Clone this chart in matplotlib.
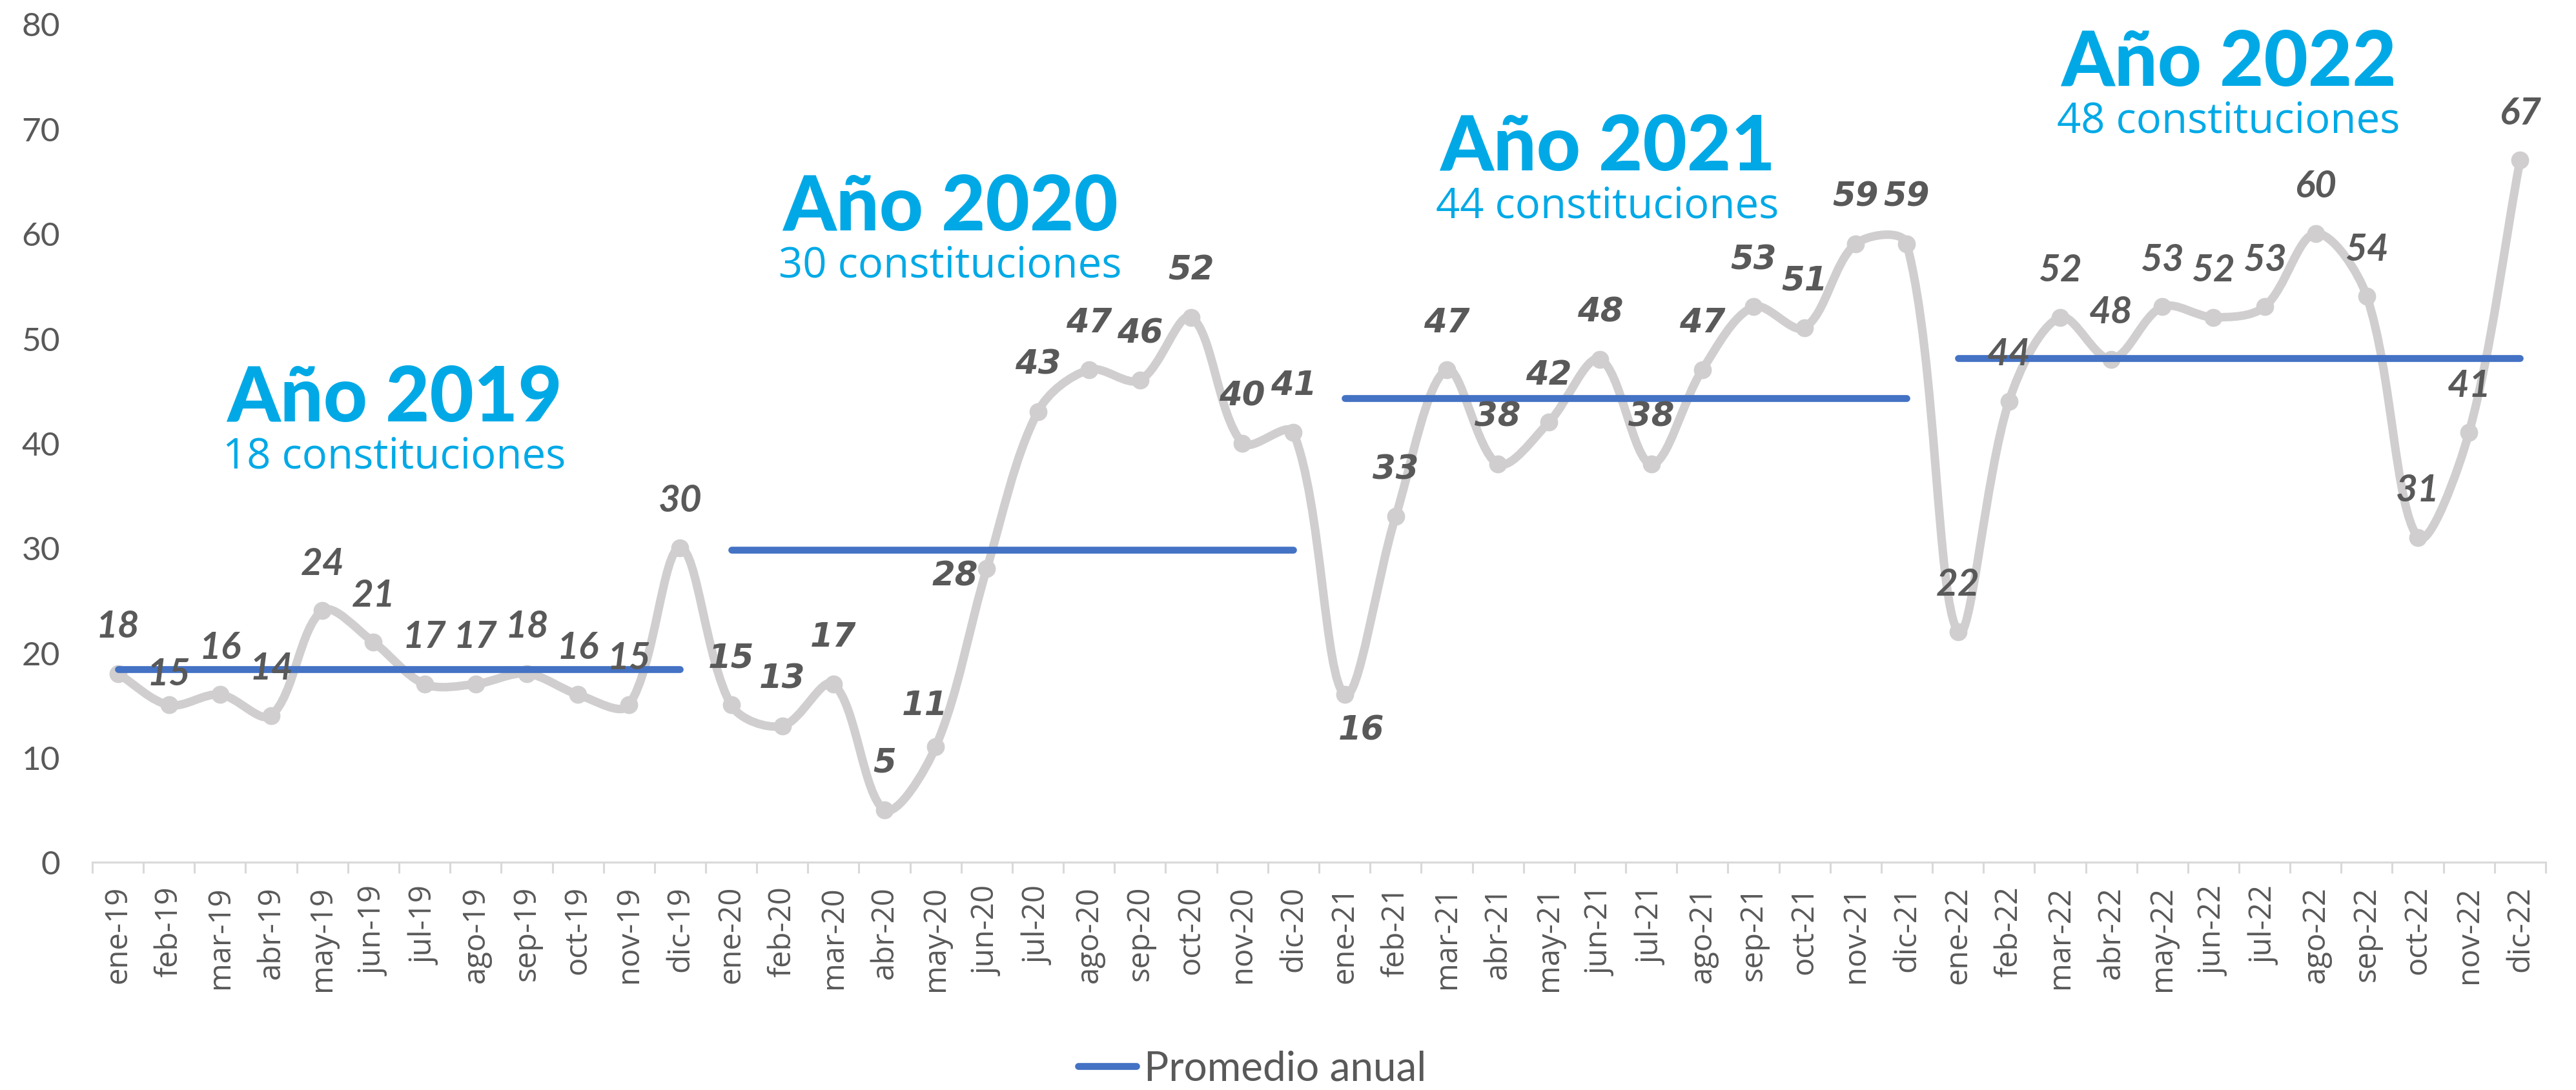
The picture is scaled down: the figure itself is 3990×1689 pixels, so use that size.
import numpy as np
import matplotlib.pyplot as plt
from matplotlib.path import Path
from matplotlib.patches import PathPatch
from matplotlib.lines import Line2D

# Datos: constituciones mensuales por año
months = ['ene', 'feb', 'mar', 'abr', 'may', 'jun', 'jul', 'ago', 'sep', 'oct', 'nov', 'dic']
years = ['19', '20', '21', '22']
year_names = ['Año 2019', 'Año 2020', 'Año 2021', 'Año 2022']
c2019 = [18, 15, 16, 14, 24, 21, 17, 17, 18, 16, 15, 30]
c2020 = [15, 13, 17, 5, 11, 28, 43, 47, 46, 52, 40, 41]
c2021 = [16, 33, 47, 38, 42, 48, 38, 47, 53, 51, 59, 59]
c2022 = [22, 44, 52, 48, 53, 52, 53, 60, 54, 31, 41, 67]
yticks = [0, 10, 20, 30, 40, 50, 60, 70, 80]

series = [c2019, c2020, c2021, c2022]
values = c2019 + c2020 + c2021 + c2022
tick_labels = [f'{m}-{y}' for y in years for m in months]

W, H = 3990, 1690
GRAY = '#D0CECE'
BLUE = '#4472C4'
TXT = '#595959'
CYAN = '#00A9E6'

fig = plt.figure(figsize=(W / 100, H / 100), dpi=100)
ax = fig.add_axes([143 / W, 1 - 1337 / H, 3800 / W, (1337 - 38) / H])
n = len(values)
ax.set_xlim(-0.5, n - 0.5)
ax.set_ylim(0, 80)

x = np.arange(n)
y = np.array(values, dtype=float)

# linea suavizada estilo Excel (control points en espacio de pixeles)
P = ax.transData.transform(np.column_stack([x, y]))
cp_out, cp_in = [], []
for i in range(n):
    p0 = P[max(i - 1, 0)]
    p1 = P[i]
    p2 = P[min(i + 1, n - 1)]
    d01 = np.hypot(*(p1 - p0))
    d12 = np.hypot(*(p2 - p1))
    tot = d01 + d12
    t = (p2 - p0) / 3
    cp_out.append(p1 + t * (d12 / tot))
    cp_in.append(p1 - t * (d01 / tot))
inv = ax.transData.inverted()
verts = [tuple(P[0])]
codes = [Path.MOVETO]
for i in range(n - 1):
    verts += [tuple(cp_out[i]), tuple(cp_in[i + 1]), tuple(P[i + 1])]
    codes += [Path.CURVE4] * 3
verts = inv.transform(np.array(verts))
ax.add_patch(PathPatch(Path(verts, codes), fill=False, edgecolor=GRAY, lw=9.5,
                       capstyle='round', joinstyle='round', zorder=2))
ax.plot(x, y, 'o', color=GRAY, markersize=19, zorder=3)

# promedio anual por año
for k, s in enumerate(series):
    xs = x[k * 12:(k + 1) * 12]
    ax.plot([xs[0], xs[-1]], [np.mean(s)] * 2, color=BLUE, lw=7.7,
            solid_capstyle='round', zorder=4)

# etiquetas de datos
offsets = {1: (0, 48), 16: (-17, 64), 17: (-49, -11), 24: (26, -55)}
for i, v in enumerate(values):
    dx, dy = offsets.get(i, (0, 73))
    yr = i // 12
    if yr in (1, 2):
        fam, fs = 'DejaVu Sans', 37
    else:
        fam, fs = 'Lato', 42
    ax.annotate(str(v), (x[i], y[i]), xytext=(dx, dy), textcoords='offset pixels',
                ha='center', va='center', fontsize=fs, fontweight='bold',
                fontstyle='italic', family=fam, color=TXT, zorder=5)

# titulos por año
title_pos = [(611, 619), (1472, 323), (2490, 230), (3452, 99)]
for k, s in enumerate(series):
    tx, ty = title_pos[k]
    fig.text(tx / W, 1 - ty / H, year_names[k], ha='center', va='center',
             fontsize=85, fontweight=900, family='Lato', color=CYAN)
    fig.text(tx / W, 1 - (ty + 90) / H, f'{round(np.mean(s))} constituciones',
             ha='center', va='center', fontsize=47, family='Open Sans', color=CYAN)

# ejes
ax.set_xticks(x)
ax.set_xticklabels(tick_labels, rotation=90, family='Open Sans', fontsize=34, color=TXT)
ax.set_xticks(np.arange(-0.5, n, 1), minor=True)
ax.tick_params(axis='x', which='major', length=0, pad=26)
ax.tick_params(axis='x', which='minor', length=12, width=2.2, color='#D9D9D9')
ax.set_yticks(yticks)
ax.set_yticklabels([str(t) for t in yticks], family='Lato', fontsize=37, color=TXT)
ax.tick_params(axis='y', length=0, pad=36)
for sp in ['left', 'top', 'right']:
    ax.spines[sp].set_visible(False)
ax.spines['bottom'].set_color('#D9D9D9')
ax.spines['bottom'].set_linewidth(2.2)

handle = Line2D([0], [0], color=BLUE, lw=7.7, solid_capstyle='round')
ax.legend([handle], ['Promedio anual'], loc='center', bbox_to_anchor=(1940 / W, 1 - 1657 / H),
          bbox_transform=fig.transFigure, frameon=False, handlelength=1.4, handletextpad=0.2,
          prop={'family': 'Lato', 'size': 46}, labelcolor=TXT)

fig.savefig('out.png', dpi=100)
